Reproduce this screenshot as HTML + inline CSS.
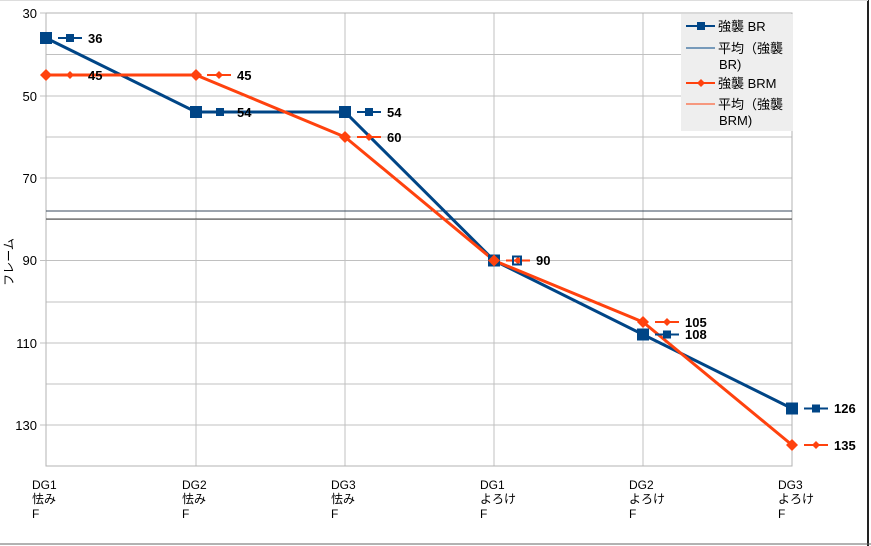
<!DOCTYPE html>
<html><head><meta charset="utf-8"><style>
body{margin:0;background:#fff}
svg{display:block;font-family:"Liberation Sans","Noto Sans CJK JP",sans-serif}
</style></head><body>
<svg width="871" height="546" viewBox="0 0 871 546">
<rect x="0" y="0" width="871" height="546" fill="#fff"/>
<line x1="868" y1="0" x2="868" y2="546" stroke="#222" stroke-width="2"/>
<line x1="0" y1="544" x2="871" y2="544" stroke="#666" stroke-width="1"/>
<line x1="0" y1="0.5" x2="868" y2="0.5" stroke="#ddd"/>
<g stroke="#c0c0c0" stroke-width="1">
<line x1="46" y1="54.5" x2="792" y2="54.5"/><line x1="46" y1="96" x2="792" y2="96"/>
<line x1="46" y1="137" x2="792" y2="137"/><line x1="46" y1="178" x2="792" y2="178"/>
<line x1="46" y1="219.5" x2="792" y2="219.5"/><line x1="46" y1="260.5" x2="792" y2="260.5"/>
<line x1="46" y1="302" x2="792" y2="302"/><line x1="46" y1="343" x2="792" y2="343"/>
<line x1="46" y1="384" x2="792" y2="384"/><line x1="46" y1="425" x2="792" y2="425"/>
<line x1="196" y1="13" x2="196" y2="466"/><line x1="345" y1="13" x2="345" y2="466"/>
<line x1="494" y1="13" x2="494" y2="466"/><line x1="643" y1="13" x2="643" y2="466"/>
<rect x="46" y="13" width="746" height="453" fill="none" stroke="#b3b3b3"/>
<line x1="40" y1="13" x2="46" y2="13"/><line x1="40" y1="96" x2="46" y2="96"/><line x1="40" y1="178" x2="46" y2="178"/><line x1="40" y1="260.5" x2="46" y2="260.5"/><line x1="40" y1="343" x2="46" y2="343"/><line x1="40" y1="425" x2="46" y2="425"/>
</g>
<g font-size="13" fill="#000" text-anchor="end">
<text x="37" y="18">30</text><text x="37" y="101">50</text><text x="37" y="183">70</text><text x="37" y="265">90</text><text x="37" y="348">110</text><text x="37" y="430">130</text>
</g>
<text transform="translate(13,262) rotate(-90)" font-size="12" text-anchor="middle">フレーム</text>
<g font-size="12" fill="#000">
<text x="32" y="489">DG1</text><text x="32" y="503">怯み</text><text x="32" y="518">F</text>
<text x="182" y="489">DG2</text><text x="182" y="503">怯み</text><text x="182" y="518">F</text>
<text x="331" y="489">DG3</text><text x="331" y="503">怯み</text><text x="331" y="518">F</text>
<text x="480" y="489">DG1</text><text x="480" y="503">よろけ</text><text x="480" y="518">F</text>
<text x="629" y="489">DG2</text><text x="629" y="503">よろけ</text><text x="629" y="518">F</text>
<text x="778" y="489">DG3</text><text x="778" y="503">よろけ</text><text x="778" y="518">F</text>
</g>
<line x1="46" y1="211" x2="792" y2="211" stroke="#3a4a5c" stroke-width="1"/>
<line x1="46" y1="219" x2="792" y2="219" stroke="#444" stroke-width="1"/>
<polyline points="46,38 196,112 345,112 494,260.5 643,334.5 792,408.5" fill="none" stroke="#004586" stroke-width="3"/>
<polyline points="46,75 196,75 345,137 494,260.5 643,322 792,445" fill="none" stroke="#ff420e" stroke-width="3"/>
<g fill="#004586" stroke="#004586" stroke-width="2">
<rect x="41" y="33" width="10" height="10"/><rect x="191" y="107" width="10" height="10"/><rect x="340" y="107" width="10" height="10"/><rect x="489" y="255.5" width="10" height="10"/><rect x="638" y="329.5" width="10" height="10"/><rect x="787" y="403.5" width="10" height="10"/>
<line x1="58" y1="38" x2="82" y2="38"/><rect x="66" y="34" width="8" height="8" stroke="none"/>
<line x1="208" y1="112" x2="232" y2="112"/><rect x="216" y="108" width="8" height="8" stroke="none"/>
<line x1="357" y1="112" x2="381" y2="112"/><rect x="365" y="108" width="8" height="8" stroke="none"/>
<line x1="655" y1="334.5" x2="679" y2="334.5"/><rect x="663" y="330.5" width="8" height="8" stroke="none"/>
<line x1="804" y1="408.5" x2="828" y2="408.5"/><rect x="812" y="404.5" width="8" height="8" stroke="none"/>
</g>
<g fill="#ff420e" stroke="#ff420e" stroke-width="2">
<g stroke="none">
<path d="M46,69 l6,6 -6,6 -6,-6z"/><path d="M196,69 l6,6 -6,6 -6,-6z"/><path d="M345,131 l6,6 -6,6 -6,-6z"/><path d="M494,254.5 l6,6 -6,6 -6,-6z"/><path d="M643,316 l6,6 -6,6 -6,-6z"/><path d="M792,439 l6,6 -6,6 -6,-6z"/>
<path d="M70,71 l4,4 -4,4 -4,-4z"/><path d="M219,71 l4,4 -4,4 -4,-4z"/><path d="M369,133 l4,4 -4,4 -4,-4z"/><path d="M518,256.5 l4,4 -4,4 -4,-4z"/><path d="M667,318 l4,4 -4,4 -4,-4z"/><path d="M816,441 l4,4 -4,4 -4,-4z"/>
</g>
<line x1="58" y1="75" x2="82" y2="75"/><line x1="207" y1="75" x2="231" y2="75"/><line x1="357" y1="137" x2="381" y2="137"/><line x1="506" y1="260.5" x2="530" y2="260.5"/><line x1="655" y1="322" x2="679" y2="322"/><line x1="804" y1="445" x2="828" y2="445"/>
</g>
<rect x="513" y="256.5" width="8" height="8" fill="none" stroke="#004586" stroke-width="2"/>
<g font-size="13" font-weight="bold" fill="#000">
<text x="88" y="43">36</text><text x="88" y="80">45</text><text x="237" y="80">45</text>
<text x="237" y="117">54</text><text x="387" y="117">54</text><text x="387" y="142">60</text>
<text x="536" y="265">90</text><text x="685" y="327">105</text><text x="685" y="339">108</text>
<text x="834" y="413">126</text><text x="834" y="450">135</text>
</g>
<rect x="681" y="14" width="112" height="117" fill="#eeeeee"/>
<g font-size="13" fill="#000">
<line x1="686" y1="26" x2="715" y2="26" stroke="#004586" stroke-width="2"/><rect x="697" y="22" width="8" height="8" fill="#004586"/>
<text x="718" y="31">強襲 BR</text>
<line x1="686" y1="48" x2="715" y2="48" stroke="#004586" stroke-width="1"/>
<text x="718" y="53">平均（強襲</text><text x="719" y="69">BR)</text>
<line x1="686" y1="83" x2="715" y2="83" stroke="#ff420e" stroke-width="2"/><path d="M701,79 l4,4 -4,4 -4,-4z" fill="#ff420e"/>
<text x="718" y="88">強襲 BRM</text>
<line x1="686" y1="104" x2="715" y2="104" stroke="#ff420e" stroke-width="1"/>
<text x="718" y="109">平均（強襲</text><text x="719" y="125">BRM)</text>
</g>
</svg>
</body></html>
